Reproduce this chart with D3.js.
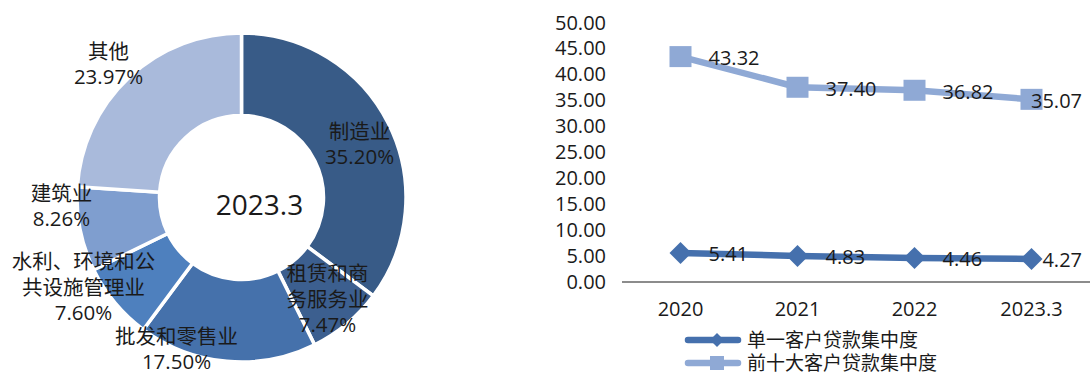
<!DOCTYPE html>
<html>
<head>
<meta charset="utf-8">
<script src="https://cdn.jsdelivr.net/npm/d3@7"></script>
<style>
  body { margin: 0; background: #fff; }
  text { font-family: "Open Sans", "Noto Sans CJK SC", sans-serif; fill: #1a1a1a; }
</style>
</head>
<body>
<script>
const svgWidth = 1091;
const svgHeight = 376;

// donut data
const sectors = ['制造业', '租赁和商务服务业', '批发和零售业', '水利、环境和公共设施管理业', '建筑业', '其他'];
const shares = [35.20, 7.47, 17.50, 7.60, 8.26, 23.97];
const sectorLines = [['制造业'], ['租赁和商', '务服务业'], ['批发和零售业'], ['水利、环境和公', '共设施管理业'], ['建筑业'], ['其他']];
const sectorColors = ['#385b87', '#3c5f8f', '#4571ab', '#4e80be', '#7f9ecf', '#a9badb'];
// label block offsets from donut centre (layout only)
const labelOffsets = [[118, -54], [86, 101], [-65, 151], [-158, 89], [-180, 8], [-133, -134]];

// line chart data
const years = ['2020', '2021', '2022', '2023.3'];
const singleRatio = [5.41, 4.83, 4.46, 4.27];
const topTenRatio = [43.32, 37.40, 36.82, 35.07];
const yTicks = [0, 5, 10, 15, 20, 25, 30, 35, 40, 45, 50];
const seriesNames = ['单一客户贷款集中度', '前十大客户贷款集中度'];

const svg = d3.select('body')
              .append('svg')
              .attr('width', svgWidth)
              .attr('height', svgHeight);

// ---------- donut ----------
const cx = 241.5, cy = 197.5;
const pie = d3.pie().sort(null).value(d => d);
const arc = d3.arc().innerRadius(82).outerRadius(164.5);
const donut = svg.append('g').attr('transform', `translate(${cx},${cy})`);

donut.selectAll('path')
     .data(pie(shares))
     .enter()
     .append('path')
     .attr('d', arc)
     .attr('fill', (d, i) => sectorColors[i])
     .attr('stroke', '#fff')
     .attr('stroke-width', 3.5);

const lineH = 25.5;
donut.selectAll('g.lbl')
     .data(shares)
     .enter()
     .append('g')
     .attr('class', 'lbl')
     .each(function(d, i) {
       const lines = sectorLines[i].concat([d.toFixed(2) + '%']);
       const [dx, dy] = labelOffsets[i];
       const top = dy - (lines.length - 1) * lineH / 2;
       d3.select(this).selectAll('text')
         .data(lines)
         .enter()
         .append('text')
         .attr('x', dx)
         .attr('y', (t, j) => top + j * lineH)
         .attr('text-anchor', 'middle')
         .attr('dominant-baseline', 'central')
         .style('font-size', '20.5px')
         .text(t => t);
     });

donut.append('text')
     .attr('x', 18)
     .attr('y', 6)
     .attr('text-anchor', 'middle')
     .attr('dominant-baseline', 'central')
     .style('font-size', '28px')
     .text('2023.3');

// ---------- line chart ----------
const x = d3.scaleBand().domain(years).range([622, 1090]);
const y = d3.scaleLinear().domain([0, 50]).range([281, 22]);
const xc = d => x(d) + x.bandwidth() / 2;

svg.append('g')
   .selectAll('text')
   .data(yTicks)
   .enter()
   .append('text')
   .attr('x', 606)
   .attr('y', d => y(d))
   .attr('text-anchor', 'end')
   .attr('dominant-baseline', 'central')
   .style('font-size', '20px')
   .text(d => d.toFixed(2));

svg.append('line')
   .attr('x1', 622).attr('x2', 1090)
   .attr('y1', 282).attr('y2', 282)
   .attr('stroke', '#8c8c8c')
   .attr('stroke-width', 2);

svg.append('g')
   .selectAll('text')
   .data(years)
   .enter()
   .append('text')
   .attr('x', d => xc(d))
   .attr('y', 308)
   .attr('text-anchor', 'middle')
   .attr('dominant-baseline', 'central')
   .style('font-size', '20px')
   .text(d => d);

const series = [
  { values: singleRatio, color: '#4570ad', marker: 'diamond' },
  { values: topTenRatio, color: '#8fa9d5', marker: 'square' }
];

const line = d3.line().x((d, i) => xc(years[i])).y(d => y(d));

function drawMarker(g, type, color) {
  if (type === 'diamond') {
    g.append('path').attr('d', 'M0,-11L11,0L0,11L-11,0Z').attr('fill', color);
  } else {
    g.append('rect').attr('x', -11).attr('y', -10.5).attr('width', 22).attr('height', 21).attr('fill', color);
  }
}

series.forEach(s => {
  svg.append('path')
     .datum(s.values)
     .attr('d', line)
     .attr('fill', 'none')
     .attr('stroke', s.color)
     .attr('stroke-width', 6.5)
     .attr('stroke-linejoin', 'round');

  s.values.forEach((v, i) => {
    const g = svg.append('g').attr('transform', `translate(${xc(years[i])},${y(v)})`);
    drawMarker(g, s.marker, s.color);
  });

  s.values.forEach((v, i) => {
    const t = svg.append('text')
                 .attr('y', y(v) + 1)
                 .attr('dominant-baseline', 'central')
                 .style('font-size', '20px')
                 .text(v.toFixed(2));
    const w = t.node().getComputedTextLength();
    t.attr('x', Math.min(xc(years[i]) + 28, 1082 - w));
  });
});

// legend
const legend = svg.append('g');
series.forEach((s, i) => {
  const ly = 340 + i * 23;
  legend.append('line')
        .attr('x1', 688).attr('x2', 738)
        .attr('y1', ly).attr('y2', ly)
        .attr('stroke', s.color)
        .attr('stroke-width', 6.5)
        .attr('stroke-linecap', 'round');
  const g = legend.append('g').attr('transform', `translate(717,${ly})`);
  if (s.marker === 'diamond') {
    g.append('path').attr('d', 'M0,-7L7,0L0,7L-7,0Z').attr('fill', s.color);
  } else {
    g.append('rect').attr('x', -7).attr('y', -7).attr('width', 14).attr('height', 14).attr('fill', s.color);
  }
  legend.append('text')
        .attr('x', 747)
        .attr('y', ly)
        .attr('dominant-baseline', 'central')
        .style('font-size', '19px')
        .text(seriesNames[i]);
});
</script>
</body>
</html>
